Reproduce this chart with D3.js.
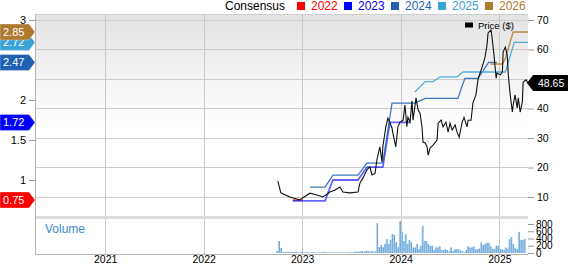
<!DOCTYPE html>
<html><head><meta charset="utf-8">
<script src="https://cdn.jsdelivr.net/npm/d3@7"></script>
<style>
html,body{margin:0;padding:0;background:#fff;}
svg{display:block;font-family:"Liberation Sans",Arial,sans-serif;}
</style></head><body>
<svg id="chart" width="568" height="264"></svg>
<script>
// ---------- data ----------
const yearTicks = ["2021-01-01","2022-01-01","2023-01-01","2024-01-01","2025-01-01"];
const epsTicks = [1, 1.5, 2, 3];
const priceGrid = [10, 20, 30, 40, 50, 60, 70];
const priceTicks = [10, 20, 30, 40, 60, 70];
const volumeTicks = [0, 200, 400, 600, 800];

const priceDates = ["2022-10-03","2022-10-14","2022-11-16","2022-12-12","2022-12-23","2023-01-01","2023-01-30","2023-02-25","2023-03-19","2023-04-14","2023-05-03","2023-05-21","2023-06-01","2023-06-27","2023-07-27","2023-08-03","2023-08-14","2023-08-29","2023-09-09","2023-09-17","2023-09-28","2023-10-05","2023-10-16","2023-10-24","2023-10-27","2023-11-07","2023-11-15","2023-11-30","2023-12-03","2023-12-14","2023-12-22","2023-12-30","2024-01-10","2024-01-17","2024-01-24","2024-01-28","2024-02-05","2024-02-12","2024-02-16","2024-02-27","2024-03-06","2024-03-13","2024-03-20","2024-03-24","2024-04-01","2024-04-08","2024-04-12","2024-04-19","2024-04-30","2024-05-15","2024-05-19","2024-05-30","2024-06-06","2024-06-17","2024-06-25","2024-07-02","2024-07-10","2024-07-21","2024-07-28","2024-08-05","2024-08-16","2024-08-23","2024-09-03","2024-09-07","2024-09-18","2024-09-25","2024-10-06","2024-10-14","2024-10-29","2024-11-09","2024-11-16","2024-11-20","2024-12-01","2024-12-05","2024-12-12","2024-12-20","2024-12-23","2025-01-04","2025-01-12","2025-01-15","2025-01-23","2025-01-30","2025-02-03","2025-02-10","2025-02-18","2025-02-21","2025-02-28","2025-03-08","2025-03-12","2025-03-19","2025-03-27","2025-03-30","2025-04-10","2025-04-17"];
const priceValues = [15.4,11.4,10.0,9.3,9.0,9.6,11.3,10.7,10.0,11.7,12.4,13.4,11.7,11.4,11.7,14.7,16.4,19.2,20.2,17.5,18.0,22.5,27.0,21.9,27.0,33.8,36.8,33.4,31.7,27.0,33.8,35.4,36.0,41.2,33.8,37.0,35.4,42.5,36.0,43.6,39.5,38.4,33.8,28.6,28.3,27.0,24.2,26.6,27.6,29.3,35.0,36.1,33.8,35.4,32.0,35.0,32.7,34.4,32.0,30.3,35.4,37.0,33.8,36.0,36.0,41.9,44.6,50.0,54.0,57.5,61.5,65.6,66.6,63.9,58.1,50.3,52.0,51.4,52.4,59.2,60.8,58.1,51.4,44.6,38.8,41.2,44.6,40.2,43.6,38.8,42.2,49.0,49.7,48.65];

const volumeStart = "2022-09-30";
const volumeValues = [55,330,140,20,25,35,20,30,25,20,
35,20,15,40,20,15,20,15,15,20,
15,15,20,15,25,30,15,15,20,15,
15,15,20,15,15,20,15,15,15,20,
15,40,35,40,40,55,30,55,60,40,
55,40,35,820,160,220,160,250,385,250,
360,525,500,300,160,880,590,330,520,250,
360,300,150,150,250,110,200,750,330,330,
250,200,200,80,150,150,180,80,80,110,
80,40,150,50,100,110,100,70,50,15,
80,180,150,150,180,100,100,120,290,220,
250,280,280,180,110,110,200,200,110,100,
80,150,120,385,440,250,130,110,580,360,
360,390];

const consensusYears = ["2022","2023","2024","2025","2026"];
const consensusLatest = [0.75, 1.72, 2.47, 2.72, 2.85];
const cons2022 = [["2022-11-27",0.75],["2023-01-04",0.75]];
const cons2023 = [["2022-11-27",0.74],["2023-03-27",0.74],["2023-04-25",1.0],["2023-07-27",1.0],["2023-08-29",1.16],["2023-10-27",1.16],["2023-11-22",1.72],["2024-02-05",1.72]];
const cons2024 = [["2023-01-30",0.91],["2023-03-27",0.91],["2023-04-25",1.06],["2023-07-27",1.06],["2023-08-29",1.21],["2023-10-27",1.21],["2023-11-30",1.96],["2024-02-23",1.96],["2024-04-01",2.02],["2024-07-31",2.02],["2024-08-26",2.27],["2024-10-14",2.27],["2024-11-22",2.47],["2024-12-23",2.47]];
const cons2025 = [["2024-02-23",2.10],["2024-04-01",2.23],["2024-04-30",2.23],["2024-05-27",2.29],["2024-07-28",2.29],["2024-08-19",2.35],["2025-01-23",2.35],["2025-02-25",2.72],["2025-04-17",2.72]];
const cons2026 = [["2024-11-28",2.45],["2025-01-12",2.45],["2025-01-23",2.52],["2025-02-21",2.85],["2025-04-17",2.85]];
const lastPrice = 48.65;

// ---------- styles ----------
const seriesColors = ["#ff0000","#0000ff","#1f62b2","#3aa2d6","#b07a30"];
const parse = d3.timeParse("%Y-%m-%d");

// ---------- scales ----------
const L = 35, R = 528, T = 14, PB = 216, VB = 254;
const x = d3.scaleTime().domain([parse("2020-04-16"), parse("2025-04-17")]).range([L, R]);
const yPrice = d3.scaleLinear().domain([10, 70]).range([197, 20]);
const yEps = d3.scaleLinear().domain([1, 3]).range([180, 20]);
const yVol = d3.scaleLinear().domain([0, 800]).range([253, 224]);

const svg = d3.select("#chart");
const defs = svg.append("defs");
const grad = defs.append("linearGradient").attr("id","bg").attr("gradientUnits","userSpaceOnUse")
  .attr("x1",0).attr("y1",T).attr("x2",0).attr("y2",PB);
grad.append("stop").attr("offset",0).attr("stop-color","#e3e3e3");
grad.append("stop").attr("offset",0.55).attr("stop-color","#ffffff");
grad.append("stop").attr("offset",1).attr("stop-color","#ffffff");

svg.append("rect").attr("x",L).attr("y",T).attr("width",R-L).attr("height",PB-T).attr("fill","url(#bg)");

// horizontal grid (price)
svg.append("g").selectAll("line").data(priceGrid).join("line")
  .attr("x1",L).attr("x2",R).attr("y1",d=>yPrice(d)).attr("y2",d=>yPrice(d))
  .attr("stroke","#cccccc").attr("stroke-width",1).attr("shape-rendering","crispEdges");
// top border
svg.append("line").attr("x1",L).attr("x2",R).attr("y1",T+0.5).attr("y2",T+0.5).attr("stroke","#cfcfcf");
// vertical grid
svg.append("g").selectAll("line").data(yearTicks).join("line")
  .attr("x1",d=>Math.round(x(parse(d)))+0.5).attr("x2",d=>Math.round(x(parse(d)))+0.5)
  .attr("y1",T).attr("y2",VB).attr("stroke","#c8c8c8");
// separator band
svg.append("rect").attr("x",L).attr("y",216).attr("width",R-L).attr("height",3).attr("fill","#dddddd");
// left & bottom border
svg.append("line").attr("x1",L+0.5).attr("x2",L+0.5).attr("y1",T).attr("y2",VB+0.5).attr("stroke","#b5b5b5");
svg.append("line").attr("x1",L).attr("x2",R).attr("y1",VB+0.5).attr("y2",VB+0.5).attr("stroke","#b5b5b5");

// volume bars
const vStart = parse(volumeStart);
const volData = volumeValues.map((v,i)=>({d:d3.timeDay.offset(vStart, 7*i), v}));
const vg = svg.append("g");
vg.selectAll("rect.l").data(volData).join("rect").attr("class","l")
  .attr("x",d=>x(d.d)-0.9).attr("width",1.8)
  .attr("y",d=>yVol(d.v)).attr("height",d=>yVol(0)-yVol(d.v))
  .attr("fill","#a9cdea");
vg.selectAll("rect.d").data(volData).join("rect").attr("class","d")
  .attr("x",d=>x(d.d)+0.1).attr("width",0.8)
  .attr("y",d=>yVol(d.v)).attr("height",d=>yVol(0)-yVol(d.v))
  .attr("fill","#5f9fd8");

// consensus lines
const consLine = d3.line().x(d=>x(parse(d[0]))).y(d=>yEps(d[1]));
const consSeries = [cons2022, cons2023, cons2024, cons2025, cons2026];
svg.append("g").selectAll("path").data(consSeries).join("path")
  .attr("d",d=>consLine(d)).attr("fill","none")
  .attr("stroke",(d,i)=>seriesColors[i]).attr("stroke-width",(d,i)=>i<2?1.8:1.3)
  .attr("stroke-opacity",(d,i)=>i<2?0.6:0.85);

// price line
const priceData = priceDates.map((d,i)=>({d:parse(d), v:priceValues[i]}));
svg.append("path").datum(priceData)
  .attr("d", d3.line().x(d=>x(d.d)).y(d=>yPrice(d.v)))
  .attr("fill","none").attr("stroke","#111").attr("stroke-width",1.1);

// axes
const leftAxis = svg.append("g").attr("transform",`translate(${L},0)`)
  .call(d3.axisLeft(yEps).tickValues(epsTicks).tickSize(6).tickPadding(3).tickFormat(d3.format("")));
const rightAxis = svg.append("g").attr("transform",`translate(${R},0)`)
  .call(d3.axisRight(yPrice).tickValues(priceTicks).tickSize(6).tickPadding(3));
const volAxis = svg.append("g").attr("transform",`translate(${R},0)`)
  .call(d3.axisRight(yVol).tickValues(volumeTicks).tickSize(6).tickPadding(2));
const xAxis = svg.append("g").attr("transform",`translate(0,${VB})`)
  .call(d3.axisBottom(x).tickValues(yearTicks.map(parse)).tickSize(0).tickPadding(2).tickFormat(d3.timeFormat("%Y")));
[leftAxis,rightAxis,volAxis,xAxis].forEach(g=>{
  g.select(".domain").remove();
  g.selectAll(".tick line").attr("stroke","#999");
  g.selectAll(".tick text").attr("fill","#000").attr("font-family","Liberation Sans, Arial, sans-serif");
});
leftAxis.selectAll("text").attr("font-size",11);
rightAxis.selectAll("text").attr("font-size",10.5);
volAxis.selectAll("text").attr("font-size",10);
xAxis.selectAll("text").attr("font-size",10.5);

// left badges
const bg = svg.append("g");
consensusLatest.forEach((v,i)=>{
  const y = yEps(v);
  bg.append("path")
    .attr("d",`M0,${y-8}H29L35,${y}L29,${y+8}H0Z`)
    .attr("fill",seriesColors[i]).attr("stroke","#ffffff").attr("stroke-opacity",0.5).attr("stroke-width",0.6);
  bg.append("text").attr("x",3).attr("y",y+4).attr("fill","#fff").attr("font-size",11)
    .text(d3.format(".2f")(v));
});
// right price badge
const py = yPrice(lastPrice);
svg.append("path").attr("d",`M527,${py}L533,${py-8}H568V${py+8}H533Z`).attr("fill","#000");
svg.append("text").attr("x",538).attr("y",py+4).attr("fill","#fff").attr("font-size",10.5).text(lastPrice.toFixed(2));

// top legend
const lg = svg.append("g").attr("font-size",12);
lg.append("text").attr("x",225).attr("y",10).attr("fill","#000").text("Consensus");
consensusYears.forEach((yr,i)=>{
  const sx = 297 + 47*i;
  lg.append("rect").attr("x",sx).attr("y",2).attr("width",8).attr("height",8).attr("fill",seriesColors[i]);
  lg.append("text").attr("x",sx+14).attr("y",10).attr("fill",seriesColors[i]).text(yr);
});
// price legend
svg.append("rect").attr("x",465).attr("y",22.5).attr("width",8).attr("height",5).attr("fill","#000");
svg.append("text").attr("x",478).attr("y",29).attr("font-size",9.5).attr("fill","#000").text("Price ($)");
// volume label
svg.append("text").attr("x",45).attr("y",233).attr("font-size",12).attr("fill","#3d8bd0").text("Volume");
</script>
</body></html>
